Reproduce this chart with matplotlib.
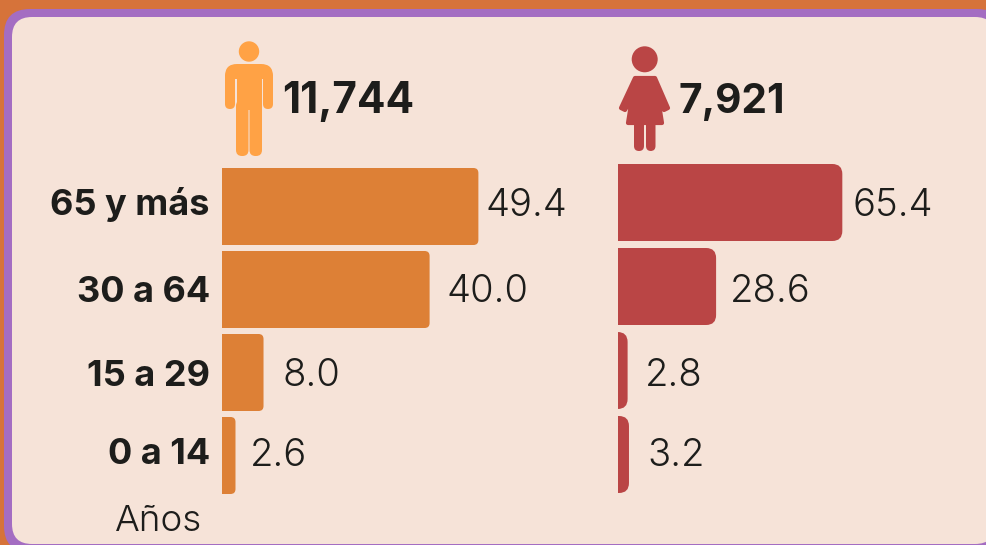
import matplotlib
matplotlib.use('Agg')
import matplotlib.pyplot as plt
from matplotlib.patches import FancyBboxPatch, Circle, Polygon

W, H = 987, 545

grupos = ['65 y más', '30 a 64', '15 a 29', '0 a 14']
hombres = [49.4, 40.0, 8.0, 2.6]
mujeres = [65.4, 28.6, 2.8, 3.2]
total_hombres = '11,744'
total_mujeres = '7,921'

# nudges for the value labels, pixels from bar end / bar centre
dx_h = [7, 17, 19, 14]
dy_h = [5, 1, 0, 4]
dx_m = [10, 14, 17, 18]
dy_m = [0, -2, -2, 3]
dy_g = [5, 1, 0, 4]

NARANJA = '#DD8036'
ICONO_H = '#FFA245'
ROJO = '#BA4545'
TEXTO = '#1D1D1B'
CREMA = '#F6E3D8'

plt.rcParams['font.family'] = ['Inter', 'DejaVu Sans']

fig = plt.figure(figsize=(W / 100, H / 100), dpi=100, facecolor='#D6733A')

bg = fig.add_axes([0, 0, 1, 1])
bg.set_xlim(0, W)
bg.set_ylim(H, 0)
bg.axis('off')


def caja(x0, y0, x1, y1, r, color, ax=bg, **kw):
    p = FancyBboxPatch((x0 + r, y0 + r), x1 - x0 - 2 * r, y1 - y0 - 2 * r,
                       boxstyle='round,pad=%f,rounding_size=%f' % (r, r),
                       fc=color, ec='none', **kw)
    ax.add_patch(p)


caja(4, 9, 1003, 552, 26, '#A46DC2')
caja(12, 17, 995, 544, 20, CREMA)

# man icon
bg.add_patch(Circle((249, 51.5), 10.2, fc=ICONO_H, ec='none'))
caja(225, 64, 273, 92, 12, ICONO_H)
caja(225, 72, 235, 109, 5, ICONO_H)
caja(263, 72, 273, 109, 5, ICONO_H)
bg.fill_between([235, 236.5], 79, 110, color=CREMA, lw=0)
bg.fill_between([261.5, 263], 79, 110, color=CREMA, lw=0)
bg.fill_between([236.5, 261.5], 70, 110, color=ICONO_H, lw=0)
caja(236, 100, 248.5, 156, 6, ICONO_H)
caja(249.5, 100, 262, 156, 6, ICONO_H)

# woman icon
bg.add_patch(Circle((644.7, 59.3), 13, fc=ROJO, ec='none'))
bg.add_patch(Polygon([(635, 78), (655, 78), (668, 108), (664, 110), (658, 98),
                      (662, 123), (628, 123), (632, 98), (625, 110), (621, 108)],
                     closed=True, fc=ROJO, ec=ROJO, lw=3, joinstyle='round'))
caja(634, 118, 644, 151, 5, ROJO)
caja(646, 118, 655.5, 151, 5, ROJO)

bg.text(282, 113, total_hombres, fontsize=30.5, fontweight='bold', color=TEXTO, va='baseline')
bg.text(679, 113, total_mujeres, fontsize=29.2, fontweight='bold', color=TEXTO, va='baseline')
bg.text(202, 531, 'Años', fontsize=26.5, color=TEXTO, ha='right', va='baseline', fontweight=300)


def panel(x0, x1, top, bottom, escala, valores, radio, color, dx, dy):
    ax = fig.add_axes([x0 / W, 1 - bottom / H, (x1 - x0) / W, (bottom - top) / H])
    ax.set_xlim(0, (x1 - x0) / escala)
    ax.set_ylim(3.5, -0.5)
    ax.axis('off')
    paso = (bottom - top) / 4
    alto = 77 / paso
    r = radio / escala
    for i, v in enumerate(valores):
        # box starts left of the axis so the left corners get clipped off
        ax.add_patch(FancyBboxPatch((-r, i - alto / 2 + r * escala / paso), v,
                                    alto - 2 * r * escala / paso,
                                    boxstyle='round,pad=%f,rounding_size=%f' % (r, r),
                                    mutation_aspect=escala / paso,
                                    fc=color, ec='none'))
        ax.annotate('%.1f' % v, (v, i), xytext=(dx[i], dy[i]), textcoords='offset pixels',
                    fontsize=27.5, fontweight=300, color=TEXTO, va='center_baseline',
                    annotation_clip=False)
    return ax


ax_h = panel(222, 600, 165, 497, 5.19, hombres, 5, NARANJA, dx_h, dy_h)
ax_m = panel(618, 985, 160.5, 496.5, 3.43, mujeres, 10, ROJO, dx_m, dy_m)

for i, g in enumerate(grupos):
    ax_h.annotate(g, (0, i), xytext=(-12, dy_g[i]), textcoords='offset pixels', ha='right',
                  va='center_baseline', fontsize=26, fontweight='bold', color=TEXTO,
                  annotation_clip=False)

fig.savefig('out.png', dpi=100, facecolor=fig.get_facecolor())
